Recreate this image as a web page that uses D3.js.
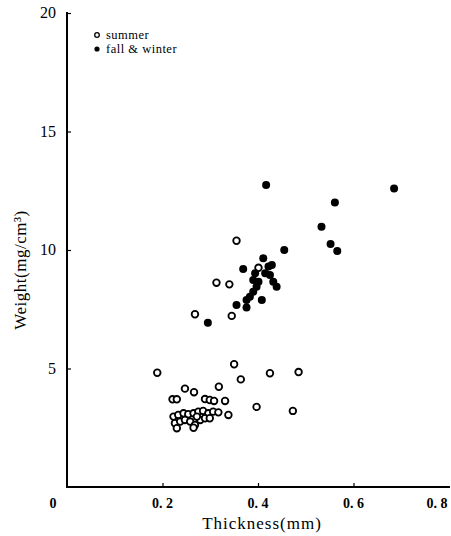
<!DOCTYPE html>
<html><head><meta charset="utf-8">
<script src="https://cdn.jsdelivr.net/npm/d3@7"></script>
<style>body{margin:0;background:#fff;}svg{display:block;}</style>
</head><body>
<svg id="c" width="451" height="536"></svg>
<script>
const xTicks = [0, 0.2, 0.4, 0.6, 0.8];
const xTickLabels = ["0", "0. 2", "0. 4", "0. 6", "0. 8"];
const yTicks = [5, 10, 15, 20];
const yTickLabels = ["5", "10", "15", "20"];
const seriesNames = ["summer", "fall & winter"];

const summerX = [0.189,0.350,0.425,0.485,0.364,0.318,0.247,0.266,0.221,0.230,0.289,0.299,0.308,0.331,0.397,0.473,
  0.223,0.233,0.244,0.254,0.265,0.275,0.285,0.296,0.306,0.317,0.338,0.226,0.237,0.247,0.258,0.268,0.279,0.289,0.299,0.230,0.265,0.272,
  0.355,0.313,0.340,0.268,0.345,0.401];
const summerY = [4.82,5.18,4.80,4.85,4.54,4.23,4.15,4.00,3.70,3.70,3.71,3.67,3.63,3.63,3.38,3.21,
  2.97,3.04,3.11,3.07,3.11,3.18,3.21,3.11,3.18,3.15,3.04,2.69,2.76,2.83,2.76,2.62,2.83,2.90,2.90,2.48,2.50,2.97,
  10.39,8.62,8.55,7.29,7.22,9.25];

const fallX = [0.411,0.369,0.422,0.429,0.394,0.415,0.425,0.390,0.401,0.432,0.439,0.397,0.390,0.383,0.376,0.408,0.376,0.355,
  0.455,0.533,0.552,0.566,0.561,0.685,0.417,0.295];
const fallY = [9.65,9.20,9.30,9.37,9.02,9.02,8.95,8.73,8.66,8.66,8.45,8.45,8.24,8.03,7.89,7.89,7.57,7.68,
  10.0,10.98,10.25,9.96,12.0,12.59,12.74,6.93];

const svg = d3.select("#c");
const x = d3.scaleLinear().domain([0, 0.8]).range([67, 449]);
const y = d3.scaleLinear().domain([0, 20]).range([487, 13]);
const serif = "'Liberation Serif','DejaVu Serif',serif";

// axes
const gx = svg.append("g").attr("transform", "translate(0,487)")
  .call(d3.axisBottom(x).tickValues(xTicks.slice(1, 4)).tickSize(-4).tickFormat(""));
gx.select(".domain").attr("stroke", "#000").attr("stroke-width", 2).attr("d", "M66,0H450");
gx.selectAll(".tick line").attr("stroke", "#000").attr("stroke-width", 1.2);

const gy = svg.append("g").attr("transform", "translate(67,0)")
  .call(d3.axisLeft(y).tickValues(yTicks).tickSize(-4).tickFormat(""));
gy.select(".domain").attr("stroke", "#000").attr("stroke-width", 2).attr("d", "M0,488V12");
gy.selectAll(".tick line").attr("stroke", "#000").attr("stroke-width", 1.2);

// tick labels
svg.append("g").selectAll("text").data(xTicks).join("text")
  .attr("x", (d, i) => i === 0 ? x(d) - 14 : (i === 4 ? x(d) - 12 : x(d)))
  .attr("y", 508)
  .attr("text-anchor", "middle")
  .attr("font-family", serif).attr("font-size", 14).attr("font-weight", "bold")
  .text((d, i) => xTickLabels[i]);

svg.append("g").selectAll("text").data(yTicks).join("text")
  .attr("x", 56).attr("y", d => y(d) + 5)
  .attr("text-anchor", "end")
  .attr("font-family", serif).attr("font-size", 16)
  .text((d, i) => yTickLabels[i]);

// axis titles
svg.append("text").attr("x", 262).attr("y", 529).attr("text-anchor", "middle")
  .attr("font-family", serif).attr("font-size", 17).attr("letter-spacing", 1)
  .text("Thickness(mm)");
svg.append("text").attr("transform", "translate(26,270) rotate(-90)").attr("text-anchor", "middle")
  .attr("font-family", serif).attr("font-size", 17).attr("letter-spacing", 0.5)
  .text("Weight(mg/cm³)");

// points
svg.append("g").selectAll("circle").data(summerX.map((v, i) => [v, summerY[i]])).join("circle")
  .attr("cx", d => x(d[0])).attr("cy", d => y(d[1])).attr("r", 3.3)
  .attr("fill", "#fff").attr("stroke", "#000").attr("stroke-width", 1.8);
svg.append("g").selectAll("circle").data(fallX.map((v, i) => [v, fallY[i]])).join("circle")
  .attr("cx", d => x(d[0])).attr("cy", d => y(d[1])).attr("r", 4)
  .attr("fill", "#000");

// legend
const lg = svg.append("g");
lg.append("circle").attr("cx", 97).attr("cy", 35).attr("r", 2.3).attr("fill", "#fff").attr("stroke", "#000").attr("stroke-width", 1.3);
lg.append("circle").attr("cx", 97).attr("cy", 49).attr("r", 2.6).attr("fill", "#000");
lg.selectAll("text").data(seriesNames).join("text")
  .attr("x", 106).attr("y", (d, i) => 39 + i * 14)
  .attr("font-family", serif).attr("font-size", 12.5).attr("letter-spacing", 0.5)
  .text(d => d);
</script>
</body></html>
